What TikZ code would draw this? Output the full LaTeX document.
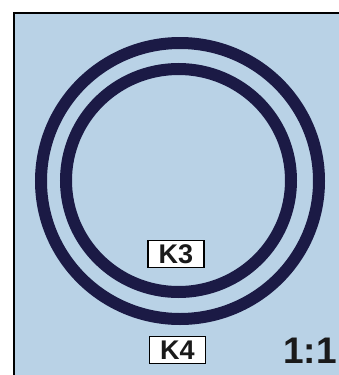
\documentclass[tikz,border=0pt]{standalone}
\usepackage{fontspec}
\setmainfont{Liberation Sans}
\definecolor{bgblue}{HTML}{B9D2E6}
\definecolor{ringnavy}{HTML}{1B1A45}
\definecolor{txtdark}{HTML}{1A1A1A}
\tikzset{
  ring/.style={draw=ringnavy, line width=12pt},
  tag/.style={draw=black, line width=1.6pt, fill=white, minimum width=56pt, minimum height=27pt, inner sep=0pt, font=\fontsize{27}{27}\selectfont\bfseries, text=txtdark},
}
\begin{document}
\begin{tikzpicture}[x=1pt,y=-1pt]
\useasboundingbox (0,0) rectangle (339,375);
\fill[white] (0,0) rectangle (339,375);
\fill[bgblue] (14,13) rectangle (339,375);
\draw[black, line width=2.2pt] (14,375) -- (14,13) -- (339,13);
\draw[ring] (180,181) ellipse [x radius=139, y radius=138];
\draw[ring] (178.5,180.5) ellipse [x radius=112.5, y radius=111.5];
\node[tag] (k3) at (176,254) {K3};
\node[tag] (k4) at (177.5,350) {K4};
\node[font=\fontsize{37}{37}\selectfont\bfseries, text=txtdark, inner sep=0pt] (scale) at (310,351) {1:1};
\end{tikzpicture}
\end{document}
